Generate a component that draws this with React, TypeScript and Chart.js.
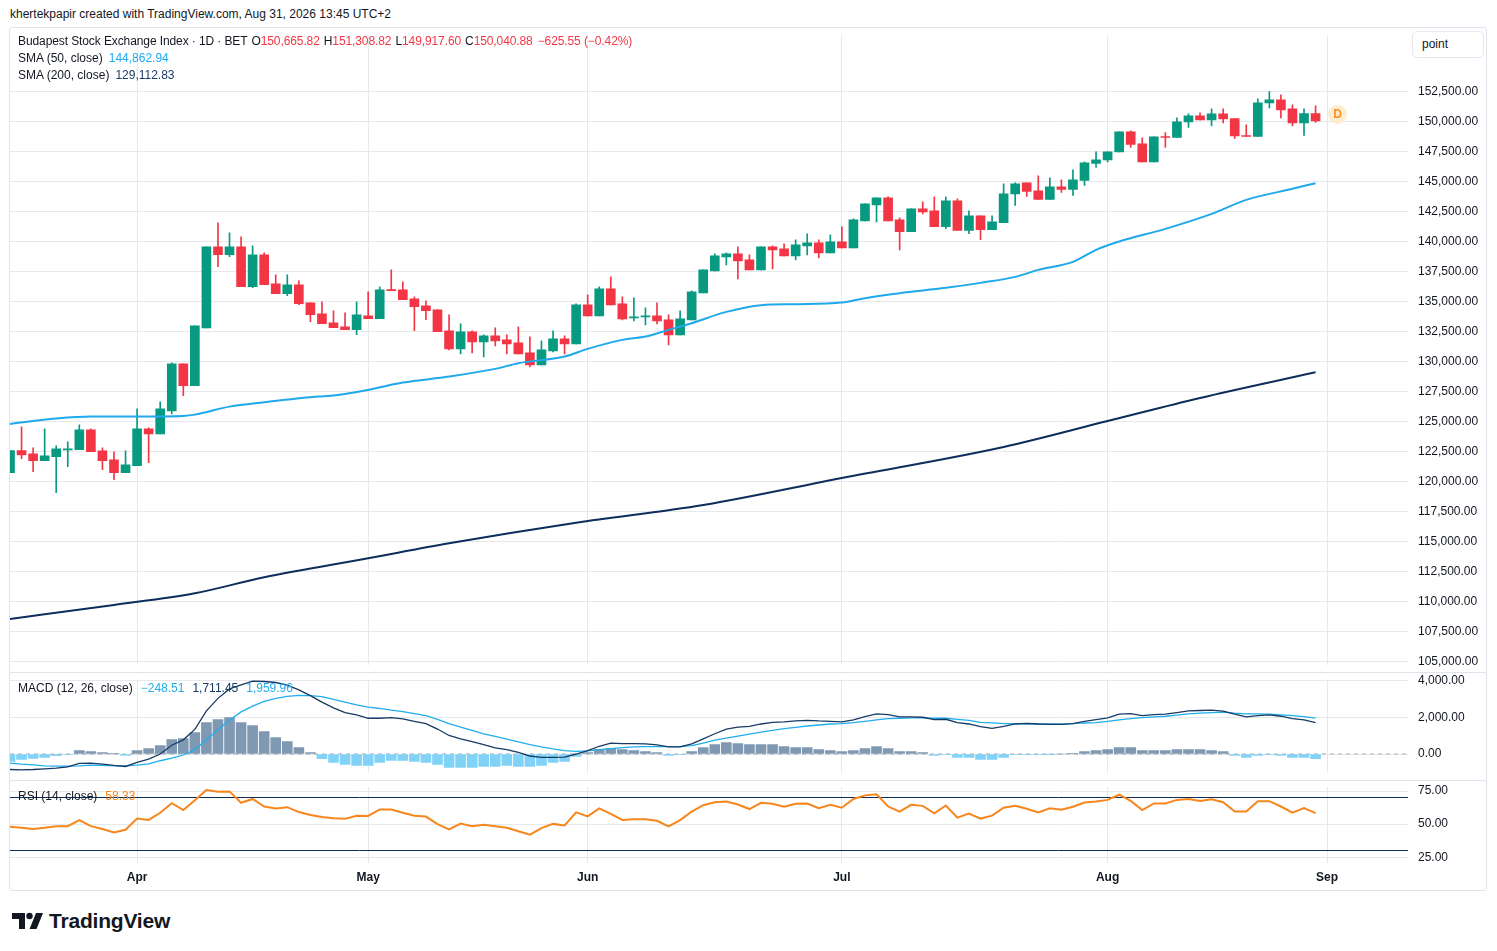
import React, { useEffect, useRef } from 'react';
import { Chart, registerables } from 'chart.js';

Chart.register(...registerables);

// ---------- calendar ----------
const FIRST_DAY = '2026-03-17';
const HOLIDAYS = ['2026-04-03', '2026-04-06', '2026-05-01', '2026-05-25', '2026-08-20', '2026-08-21'];
const FUTURE_SLOTS = 8;
const MONTHS = ['Jan', 'Feb', 'Mar', 'Apr', 'May', 'Jun', 'Jul', 'Aug', 'Sep', 'Oct', 'Nov', 'Dec'];

// ---------- candles (BET, daily) ----------
const opens = [
  120750, 122583, 122308, 121750, 122083, 122642, 122667, 124308, 122558, 121808,
  120750, 121333, 124392, 123975, 125892, 129808, 128000, 132808, 139558, 138917,
  139558, 136250, 138892, 136475, 135667, 136392, 134892, 133975, 133225, 132892,
  132667, 133808, 133583, 135975, 135975, 135225, 134642, 134308, 132558, 131058,
  132475, 131642, 132142, 131808, 131558, 130725, 129725, 130892, 131892, 131475,
  134725, 133808, 136058, 134808, 133642, 133725, 133808, 133475, 132225, 133475,
  135725, 137558, 138725, 138975, 138475, 137642, 139558, 139392, 138808, 139642,
  139892, 139058, 139975, 139475, 141725, 143058, 143642, 141808, 140833, 142725,
  142558, 141250, 143392, 140917, 142142, 141000, 141583, 143975, 144892, 144225,
  143500, 144558, 144333, 145083, 146500, 146808, 147475, 149142, 148142, 146642,
  148725, 148667, 149975, 150475, 150142, 150642, 150250, 148808, 148750, 151558,
  151808, 151058, 149892, 150665.82,
];
const highs = [
  122583, 124558, 122808, 124392, 122975, 123308, 124725, 124392, 122808, 122475,
  122558, 126058, 124475, 126642, 129892, 129808, 132975, 139558, 141558, 140725,
  140392, 139642, 139058, 137225, 137225, 136725, 134892, 134975, 134225, 134058,
  134975, 135808, 136225, 137642, 136642, 135392, 135058, 134308, 133892, 133142,
  132558, 132225, 132808, 132225, 132892, 132058, 131725, 132558, 132142, 134808,
  135558, 136225, 137058, 135392, 135308, 134475, 134892, 133892, 134225, 135892,
  137642, 138975, 139058, 139558, 138892, 139558, 139642, 139808, 140142, 140642,
  140142, 140558, 141225, 141892, 143142, 143642, 143725, 141975, 142725, 143308,
  143725, 143725, 143558, 142558, 142142, 142142, 144808, 144892, 144892, 145475,
  145308, 145142, 145975, 146642, 147475, 147475, 149142, 149225, 148642, 148725,
  149083, 150308, 150642, 150725, 151058, 151058, 150250, 149725, 151892, 152500,
  152225, 151392, 151058, 151308.82,
];
const lows = [
  120750, 121917, 120833, 121750, 119083, 121250, 122667, 122500, 121000, 120167,
  120750, 121333, 121583, 123975, 125642, 127167, 128000, 132808, 137917, 138750,
  136250, 136167, 136417, 135667, 135500, 134750, 133333, 133167, 132833, 132667,
  132250, 133583, 133583, 135917, 135167, 132583, 133500, 132500, 130975, 130642,
  130725, 130392, 131308, 130642, 130642, 129558, 129725, 130808, 130642, 131475,
  133808, 133808, 134725, 133475, 133392, 133058, 133142, 131392, 132225, 133475,
  135725, 137558, 138058, 136892, 137642, 137642, 137725, 138808, 138475, 138892,
  138642, 139058, 139475, 139475, 141725, 141642, 141725, 139308, 140833, 142308,
  141250, 141083, 140917, 140667, 140167, 141000, 141583, 143000, 143750, 143500,
  143500, 144083, 143833, 144667, 146167, 146642, 147475, 147833, 146642, 146642,
  147833, 148667, 149500, 150142, 149642, 149892, 148583, 148750, 148750, 151142,
  150308, 149642, 148833, 149917.6,
];
const closes = [
  122583, 122225, 121750, 122142, 122725, 122725, 124308, 122500, 121750, 120750,
  121392, 124392, 123975, 126058, 129808, 128000, 132975, 139558, 138917, 139558,
  136250, 138892, 136417, 135667, 136392, 134833, 133917, 133167, 132833, 132667,
  133892, 133583, 135975, 135917, 135167, 134583, 134250, 132500, 131058, 132475,
  131642, 132142, 131725, 131475, 130642, 129725, 130975, 131892, 131475, 134725,
  133808, 136058, 134725, 133558, 133725, 133808, 133392, 132225, 133558, 135808,
  137642, 138808, 138975, 138392, 137642, 139558, 139308, 138808, 139725, 139892,
  139058, 139975, 139475, 141808, 143142, 143642, 141725, 140833, 142725, 142475,
  141250, 143392, 140917, 142142, 141000, 141642, 143975, 144808, 144167, 143500,
  144558, 144333, 145142, 146558, 146808, 147475, 149142, 148083, 146642, 148725,
  148667, 149975, 150475, 150142, 150642, 150225, 148808, 148750, 151558, 151808,
  150975, 149892, 150666.43, 150040.88,
];

// ---------- moving averages (read at sample candles) ----------
const sma50Index = [0, 4, 7, 11, 15, 16, 19, 22, 26, 28, 31, 34, 38, 42, 44, 48, 50, 53, 55, 57, 59, 62, 65, 68, 72, 74, 77, 81, 84, 87, 89, 92, 94, 96, 100, 104, 107, 111, 113];
const sma50Values = [124808, 125250, 125417, 125417, 125475, 125583, 126250, 126617, 127033, 127167, 127642, 128250, 128750, 129392, 129867, 130417, 131058, 131808, 132083, 132642, 133200, 134142, 134700, 134783, 134917, 135283, 135700, 136142, 136558, 137058, 137642, 138308, 139308, 140000, 141058, 142308, 143475, 144392, 144862.94];
const sma200Index = [0, 9, 16, 22, 31, 38, 49, 60, 72, 86, 95, 103, 113];
const sma200Values = [108558, 109725, 110700, 112033, 113617, 114867, 116583, 118058, 120308, 122892, 125050, 126975, 129112.83];

// ---------- MACD (12, 26, close) ----------
const macdLine = [
  -846, -865, -846, -810, -773, -699, -515, -497, -552, -626,
  -681, -460, -276, 0, 478, 773, 1343, 2355, 3036, 3551,
  3772, 3974, 3956, 3901, 3754, 3496, 3183, 2834, 2521, 2263,
  2134, 1950, 1950, 1987, 1914, 1785, 1656, 1362, 1012, 828,
  681, 515, 331, 239, 92, -110, -184, -184, -166, 0,
  184, 423, 589, 570, 570, 552, 497, 386, 386, 552,
  828, 1104, 1362, 1472, 1509, 1638, 1730, 1748, 1803, 1840,
  1803, 1785, 1748, 1858, 2042, 2190, 2153, 2024, 2024, 2006,
  1877, 1895, 1711, 1638, 1490, 1398, 1509, 1638, 1674, 1638,
  1619, 1619, 1656, 1785, 1877, 1969, 2171, 2208, 2098, 2153,
  2171, 2263, 2355, 2374, 2392, 2337, 2171, 2024, 2098, 2134,
  2061, 1932, 1858, 1711.45,
];
const signalLine = [
  -497, -552, -589, -644, -662, -662, -644, -607, -626, -644,
  -644, -607, -534, -368, -221, -55, 239, 773, 1325, 1840,
  2300, 2613, 2870, 3036, 3146, 3202, 3183, 3128, 2981, 2834,
  2686, 2558, 2484, 2392, 2318, 2208, 2098, 1895, 1656, 1472,
  1288, 1104, 957, 810, 662, 515, 386, 276, 184, 147,
  166, 239, 294, 350, 386, 405, 405, 405, 405, 460,
  589, 754, 865, 975, 1086, 1196, 1288, 1380, 1454, 1527,
  1582, 1638, 1656, 1711, 1785, 1858, 1932, 1950, 1969, 1969,
  1950, 1950, 1895, 1840, 1730, 1693, 1656, 1656, 1638, 1638,
  1638, 1638, 1656, 1693, 1711, 1785, 1858, 1932, 1987, 2024,
  2061, 2116, 2190, 2226, 2263, 2282, 2226, 2190, 2190, 2171,
  2134, 2098, 2042, 1959.96,
];
const histogram = [
  -402, -292, -237, -183, -91, -18, 183, 128, 73, 18,
  -73, 183, 292, 457, 786, 840, 1169, 1717, 1882, 1991,
  1717, 1553, 1224, 895, 676, 347, 73, -256, -457, -566,
  -621, -621, -457, -347, -347, -402, -457, -566, -731, -731,
  -731, -676, -676, -626, -681, -681, -626, -460, -405, -129,
  74, 258, 294, 239, 184, 129, 74, -74, -18, 129,
  350, 515, 626, 570, 515, 515, 515, 405, 350, 350,
  239, 184, 129, 184, 294, 405, 294, 129, 129, 74,
  -74, -18, -184, -184, -294, -294, -184, -18, -18, -18,
  -5, 0, 18, 129, 184, 239, 350, 350, 184, 184,
  184, 239, 239, 239, 184, 129, -74, -184, -74, -18,
  -74, -184, -184, -248.51,
];

// ---------- RSI (14, close) ----------
const rsiValues = [
  48.0, 47.3, 46.3, 47.3, 48.5, 48.5, 53.0, 48.5, 46.3, 43.8,
  45.8, 54.2, 53.2, 58.6, 65.8, 60.6, 68.0, 75.7, 74.5, 74.7,
  66.1, 69.0, 63.3, 61.9, 62.8, 59.1, 56.9, 55.4, 54.4, 54.0,
  56.4, 56.2, 61.1, 61.1, 58.6, 56.4, 55.7, 50.0, 46.0, 50.5,
  48.5, 49.5, 48.5, 47.3, 44.6, 42.1, 47.0, 50.2, 49.0, 58.9,
  55.9, 61.9, 57.7, 53.2, 53.7, 53.7, 52.5, 48.3, 53.0, 59.4,
  64.3, 66.5, 67.0, 64.8, 61.4, 66.1, 65.3, 63.1, 65.3, 65.6,
  62.1, 64.6, 62.4, 69.0, 71.7, 72.5, 63.3, 59.4, 64.6, 63.8,
  58.2, 64.1, 54.9, 57.9, 54.2, 56.4, 62.4, 63.8, 61.6, 58.9,
  61.9, 60.9, 63.1, 66.3, 67.0, 68.3, 72.2, 67.5, 60.6, 65.6,
  65.6, 68.3, 69.0, 67.5, 68.8, 66.5, 59.6, 59.6, 67.3, 67.3,
  63.3, 58.6, 62.1, 58.33,
];

// ---------- axis ticks ----------
const priceTicks = [105000, 107500, 110000, 112500, 115000, 117500, 120000, 122500, 125000, 127500, 130000, 132500, 135000, 137500, 140000, 142500, 145000, 147500, 150000, 152500];
const macdTicks = [0, 2000, 4000];
const rsiTicks = [25, 50, 75];
const rsiBands = [30, 70];
const MACD_ZERO = 0;

// ---------- styling / layout ----------
const FONT = '"Liberation Sans", Arial, sans-serif';
const TEXT = '#131722';
const GRID = '#e7e8eb';
const GREEN = '#089981';
const RED = '#f23645';
const SMA50_C = '#1fa9ec';
const SMA200_C = '#0d2e5b';
const MACD_C = '#173a64';
const SIGNAL_C = '#20aeec';
const HIST_POS = '#8099b3';
const HIST_NEG = '#80d3f7';
const RSI_C = '#f7861c';
const BAND_C = '#0d2d56';
const AXIS_W = 78;
const CANVAS_LEFT = 10;
const CANVAS_W = 1476;

// where two tick values of each pane must sit (canvas-relative pixels)
const MAIN_ANCHOR = { hi: 152500, hiY: 63.5, lo: 105000, loY: 633.7 };
const MACD_ANCHOR = { hi: 4000, hiY: 8.7, lo: 0, loY: 82 };
const RSI_ANCHOR = { hi: 75, hiY: 11, lo: 25, loY: 77.3 };

function buildDays(): string[] {
  const out: string[] = [];
  const d = new Date(FIRST_DAY + 'T00:00:00Z');
  const total = opens.length + FUTURE_SLOTS;
  while (out.length < total) {
    const iso = d.toISOString().slice(0, 10);
    const wd = d.getUTCDay();
    if (wd !== 0 && wd !== 6 && !HOLIDAYS.includes(iso)) out.push(iso);
    d.setUTCDate(d.getUTCDate() + 1);
  }
  return out;
}
const days = buildDays();
const monthStart = days.map((d, i) => i > 0 && d.slice(5, 7) !== days[i - 1].slice(5, 7));

const fmt2 = (v: number) =>
  v.toLocaleString('en-US', { minimumFractionDigits: 2, maximumFractionDigits: 2 }).replace('-', '\u2212');

function sparse(idx: number[], vals: number[]) {
  const arr: (number | null)[] = days.map(() => null);
  idx.forEach((k, j) => { arr[k] = vals[j]; });
  return arr;
}

function xScale(showLabels: boolean) {
  return {
    type: 'category',
    offset: false,
    grid: {
      offset: false,
      drawTicks: showLabels,
      tickLength: 7,
      tickColor: 'rgba(0,0,0,0)',
      lineWidth: 1,
      color: (c: any) => (monthStart[c.index] ? GRID : 'rgba(0,0,0,0)'),
    },
    border: { display: false },
    ticks: {
      display: showLabels,
      autoSkip: false,
      maxRotation: 0,
      minRotation: 0,
      padding: 0,
      color: TEXT,
      font: { family: FONT, size: 12, weight: 'bold' },
      callback: (_v: any, i: number) => (monthStart[i] ? MONTHS[parseInt(days[i].slice(5, 7), 10) - 1] : ''),
    },
    afterFit: showLabels ? (s: any) => { s.height = 27; } : undefined,
  };
}

function yScale(min: number, max: number, labeled: number[], bands: number[]) {
  const all = [...labeled, ...bands].sort((a, b) => a - b);
  return {
    type: 'linear',
    position: 'right',
    min,
    max,
    afterBuildTicks: (s: any) => { s.ticks = [s.min, ...all, s.max].map((v) => ({ value: v })); },
    afterFit: (s: any) => { s.width = AXIS_W; },
    border: { display: false },
    grid: {
      drawTicks: true,
      tickLength: 10,
      tickColor: 'rgba(0,0,0,0)',
      lineWidth: 1,
      color: (c: any) => {
        const v = c.tick ? c.tick.value : NaN;
        if (bands.includes(v)) return BAND_C;
        if (labeled.includes(v)) return GRID;
        return 'rgba(0,0,0,0)';
      },
    },
    ticks: {
      padding: 0,
      color: TEXT,
      font: { family: FONT, size: 12 },
      callback: (v: number) => (labeled.includes(v) ? fmt2(v) : bands.includes(v) ? '' : null),
    },
  };
}

const baseOptions = (scales: any) => ({
  responsive: false,
  maintainAspectRatio: false,
  animation: false,
  events: [],
  layout: { padding: 0, autoPadding: false },
  elements: { point: { radius: 0, hoverRadius: 0 } },
  plugins: { legend: { display: false }, tooltip: { enabled: false } },
  scales,
});

const candleColors = opens.map((o, i) => (closes[i] >= o ? GREEN : RED));

const mainConfig = () => ({
  type: 'bar',
  data: {
    labels: days,
    datasets: [
      {
        type: 'line', label: 'SMA 50', data: sparse(sma50Index, sma50Values), borderColor: SMA50_C, borderWidth: 2,
        pointRadius: 0, spanGaps: true, cubicInterpolationMode: 'monotone', order: 0,
      },
      {
        type: 'line', label: 'SMA 200', data: sparse(sma200Index, sma200Values), borderColor: SMA200_C, borderWidth: 2,
        pointRadius: 0, spanGaps: true, cubicInterpolationMode: 'monotone', order: 1,
      },
      {
        type: 'bar', label: 'body', data: opens.map((o, i) => [o, closes[i]]), backgroundColor: candleColors,
        barThickness: 9, minBarLength: 1, grouped: false, order: 2,
      },
      {
        type: 'bar', label: 'wick', data: lows.map((l, i) => [l, highs[i]]), backgroundColor: candleColors,
        barThickness: 1, grouped: false, order: 3,
      },
    ],
  },
  options: baseOptions({ x: xScale(false), y: yScale(104142, 157808, priceTicks, []) }),
});

const macdConfig = () => ({
  type: 'bar',
  data: {
    labels: days,
    datasets: [
      {
        type: 'line', label: 'MACD', data: macdLine, borderColor: MACD_C, borderWidth: 1.3, pointRadius: 0, order: 0,
      },
      {
        type: 'line', label: 'Signal', data: signalLine, borderColor: SIGNAL_C, borderWidth: 1.3, pointRadius: 0, order: 1,
      },
      {
        type: 'bar', label: 'Histogram', data: histogram, backgroundColor: histogram.map((v) => (v >= 0 ? HIST_POS : HIST_NEG)),
        barThickness: 10, grouped: false, order: 2,
      },
      {
        type: 'line', label: 'Zero', data: days.map(() => MACD_ZERO), borderColor: '#a6a9b2', borderWidth: 1,
        borderDash: [4, 4], pointRadius: 0, order: 3,
      },
    ],
  },
  options: baseOptions({ x: xScale(false), y: yScale(-1462, 4497, macdTicks, []) }),
});

const rsiConfig = () => ({
  type: 'line',
  data: {
    labels: days,
    datasets: [
      { label: 'RSI', data: rsiValues, borderColor: RSI_C, borderWidth: 2, pointRadius: 0 },
    ],
  },
  options: baseOptions({ x: xScale(true), y: yScale(20.7, 83.3, rsiTicks, rsiBands) }),
});

type Anchor = { hi: number; hiY: number; lo: number; loY: number };

function ChartCanvas({ config, top, height, anchor }: { config: () => any; top: number; height: number; anchor: Anchor }) {
  const ref = useRef<HTMLCanvasElement | null>(null);
  useEffect(() => {
    if (!ref.current) return;
    const chart: any = new Chart(ref.current, config());
    // pin the value scale so that the anchor ticks land on their pixel rows
    const y = chart.scales.y;
    const k = (anchor.loY - anchor.hiY) / (anchor.hi - anchor.lo);
    chart.options.scales.y.min = anchor.lo - (y.bottom - anchor.loY) / k;
    chart.options.scales.y.max = anchor.hi + (anchor.hiY - y.top) / k;
    chart.update();
    return () => chart.destroy();
  }, []);
  return (
    <canvas
      ref={ref}
      width={CANVAS_W}
      height={height}
      style={{ position: 'absolute', left: CANVAS_LEFT, top, width: CANVAS_W, height }}
    />
  );
}

const last = opens.length - 1;
const change = closes[last] - closes[last - 1];
const changePct = (change / closes[last - 1]) * 100;

const textBase: React.CSSProperties = {
  position: 'absolute',
  fontFamily: FONT,
  fontSize: 12,
  color: TEXT,
  whiteSpace: 'nowrap',
  lineHeight: '14px',
  pointerEvents: 'none',
};

export default function App() {
  const redStyle = { color: RED };
  return (
    <div style={{ position: 'absolute', left: 0, top: 0, width: 1497, height: 951, background: '#ffffff', overflow: 'hidden' }}>
      <div style={{ ...textBase, left: 10, top: 7 }}>
        khertekpapir created with TradingView.com, Aug 31, 2026 13:45 UTC+2
      </div>

      {/* frame */}
      <div style={{ position: 'absolute', left: 9, top: 27, width: 1476, height: 862, border: '1px solid #e0e3eb', borderRadius: 3 }} />

      <ChartCanvas config={mainConfig} top={28} height={644} anchor={MAIN_ANCHOR} />
      <ChartCanvas config={macdConfig} top={672} height={108} anchor={MACD_ANCHOR} />
      <ChartCanvas config={rsiConfig} top={780} height={110} anchor={RSI_ANCHOR} />

      {/* pane separators */}
      <div style={{ position: 'absolute', left: 10, top: 672, width: 1476, height: 1, background: '#e0e3eb' }} />
      <div style={{ position: 'absolute', left: 10, top: 780, width: 1476, height: 1, background: '#e0e3eb' }} />

      {/* main legend */}
      <div style={{ ...textBase, left: 18, top: 34, letterSpacing: -0.1 }}>
        <span>Budapest Stock Exchange Index · 1D · BET</span>
        <span style={{ marginLeft: 4 }}>O<span style={redStyle}>{fmt2(opens[last])}</span></span>
        <span style={{ marginLeft: 4 }}>H<span style={redStyle}>{fmt2(highs[last])}</span></span>
        <span style={{ marginLeft: 4 }}>L<span style={redStyle}>{fmt2(lows[last])}</span></span>
        <span style={{ marginLeft: 4 }}>C<span style={redStyle}>{fmt2(closes[last])}</span></span>
        <span style={{ marginLeft: 5, color: RED }}>{fmt2(change)} ({fmt2(changePct)}%)</span>
      </div>
      <div style={{ ...textBase, left: 18, top: 51 }}>
        SMA (50, close)<span style={{ marginLeft: 6, color: SMA50_C }}>{fmt2(sma50Values[sma50Values.length - 1])}</span>
      </div>
      <div style={{ ...textBase, left: 18, top: 68 }}>
        SMA (200, close)<span style={{ marginLeft: 6, color: '#1d3c6b' }}>{fmt2(sma200Values[sma200Values.length - 1])}</span>
      </div>

      {/* scale mode box */}
      <div style={{ position: 'absolute', left: 1412, top: 31, width: 70, height: 25, border: '1px solid #e6e8ee', borderRadius: 5, background: '#fff' }} />
      <div style={{ ...textBase, left: 1422, top: 37 }}>point</div>

      {/* dividends marker */}
      <div style={{ position: 'absolute', left: 1328, top: 105, width: 19, height: 19, borderRadius: '50%', background: '#fdebd2', color: '#f7931e', fontFamily: FONT, fontSize: 12, fontWeight: 'bold', lineHeight: '19px', textAlign: 'center' }}>D</div>

      {/* MACD legend */}
      <div style={{ ...textBase, left: 18, top: 681 }}>
        MACD (12, 26, close)
        <span style={{ marginLeft: 8, color: SIGNAL_C }}>{fmt2(histogram[last])}</span>
        <span style={{ marginLeft: 8, color: MACD_C }}>{fmt2(macdLine[last])}</span>
        <span style={{ marginLeft: 8, color: SIGNAL_C }}>{fmt2(signalLine[last])}</span>
      </div>

      {/* RSI legend */}
      <div style={{ ...textBase, left: 18, top: 789 }}>
        RSI (14, close)<span style={{ marginLeft: 8, color: RSI_C }}>{fmt2(rsiValues[last])}</span>
      </div>

      {/* logo */}
      <div style={{ position: 'absolute', left: 12, top: 909, display: 'flex', alignItems: 'center', pointerEvents: 'none' }}>
        <svg width="32" height="18" viewBox="0 0 32 18">
          <path d="M0 1 H13 V17 H7 V7 H0 Z" fill={TEXT} />
          <circle cx="17.5" cy="4" r="3.2" fill={TEXT} />
          <path d="M24 1 H31 L24.5 17 H17.5 Z" fill={TEXT} />
        </svg>
        <span style={{ marginLeft: 5, fontFamily: FONT, fontSize: 21, fontWeight: 'bold', color: TEXT, letterSpacing: -0.2 }}>TradingView</span>
      </div>
    </div>
  );
}
